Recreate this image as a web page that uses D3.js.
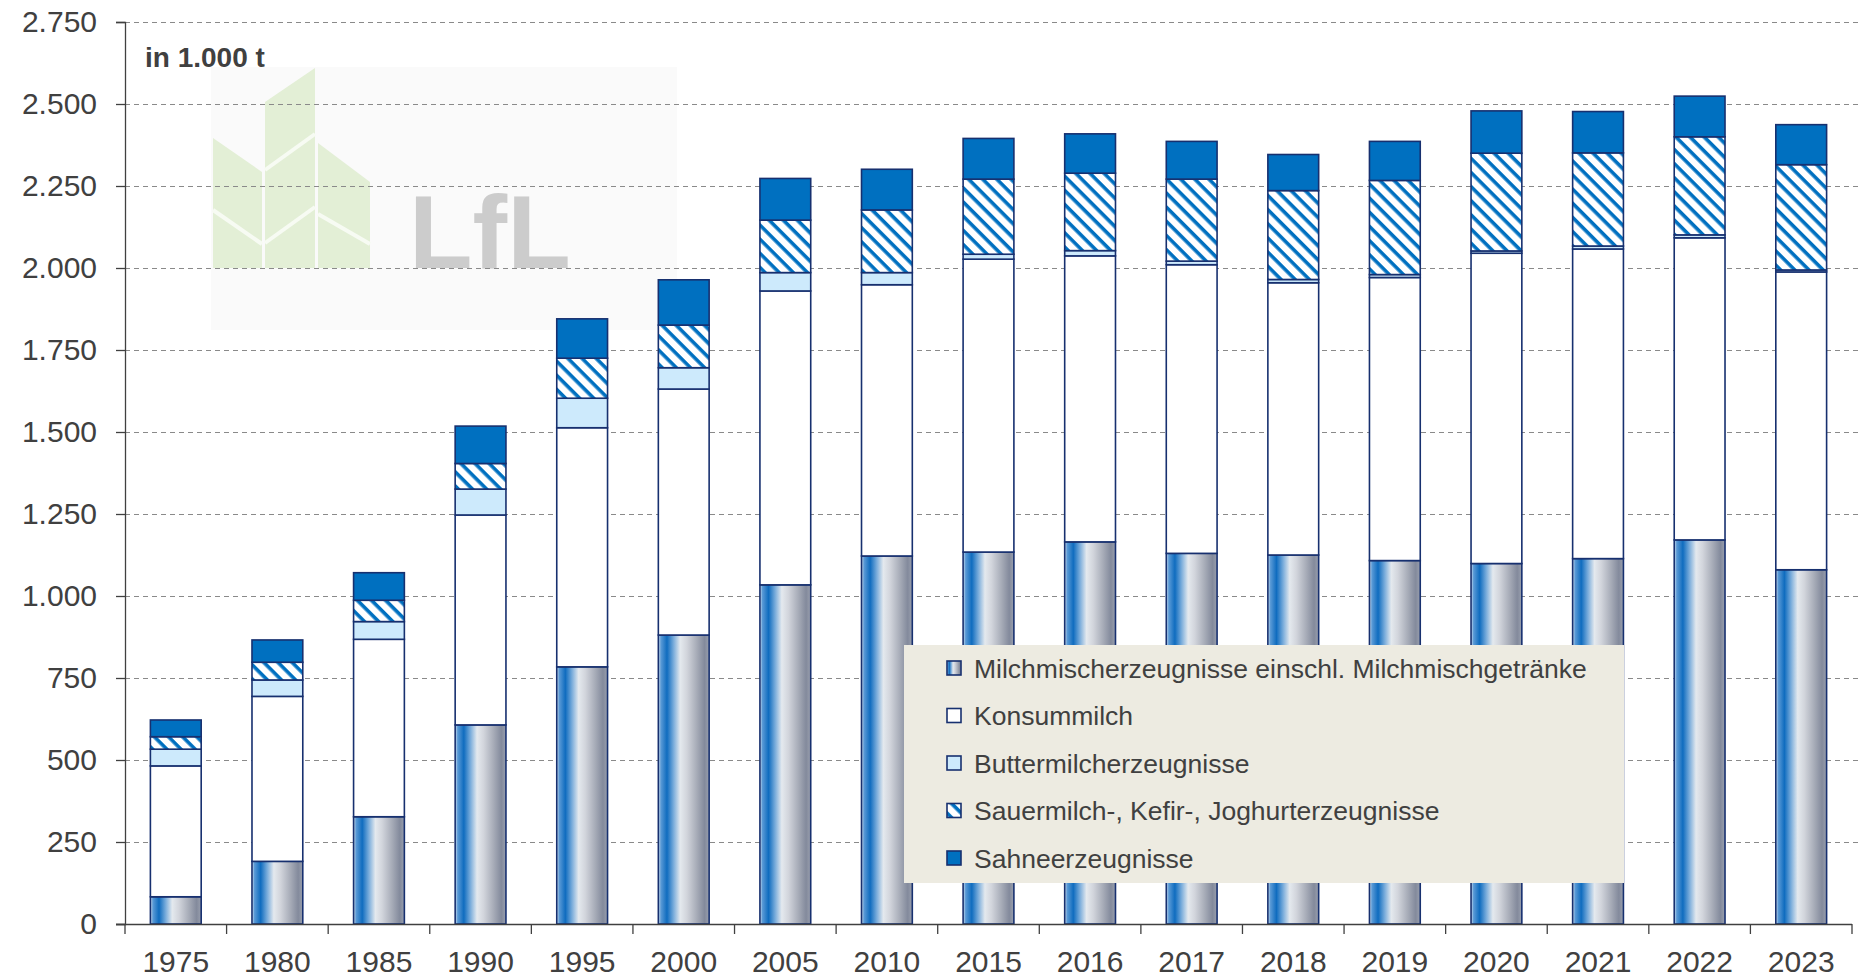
<!DOCTYPE html>
<html>
<head>
<meta charset="utf-8">
<script src="https://cdn.jsdelivr.net/npm/d3@7"></script>
<style>
  body { margin: 0; background: #fff; }
  text { font-family: "Liberation Sans", Arial, sans-serif; fill: #404040; }
</style>
</head>
<body>
<script>
//svg size
var w = 1863, h = 977;

//data in 1.000 t
var years = ["1975","1980","1985","1990","1995","2000","2005","2010","2015","2016","2017","2018","2019","2020","2021","2022","2023"];
var milchmisch = [83, 191, 327, 607, 784, 881, 1034, 1122, 1134, 1165, 1130, 1125, 1108, 1099, 1114, 1171, 1080];
var konsummilch = [399, 503, 541, 640, 729, 750, 896, 827, 893, 872, 880, 830, 863, 946, 944, 921, 908];
var buttermilch = [51, 50, 54, 79, 90, 65, 56, 37, 15, 16, 11, 10, 9, 7, 9, 9, 6];
var sauermilch = [38, 54, 65, 78, 122, 130, 160, 191, 229, 236, 250, 271, 287, 298, 284, 299, 321];
var sahne = [51, 68, 84, 114, 120, 138, 127, 124, 124, 120, 115, 110, 119, 129, 126, 124, 122];

var seriesKeys = ["misch", "konsum", "butter", "sauer", "sahne"];
var seriesNames = ["Milchmischerzeugnisse einschl. Milchmischgetränke", "Konsummilch", "Buttermilcherzeugnisse", "Sauermilch-, Kefir-, Joghurterzeugnisse", "Sahneerzeugnisse"];
var yTicks = [0, 250, 500, 750, 1000, 1250, 1500, 1750, 2000, 2250, 2500, 2750];

window.onload = function(){

    var table = years.map(function(y, i){
        return {year: y, misch: milchmisch[i], konsum: konsummilch[i], butter: buttermilch[i], sauer: sauermilch[i], sahne: sahne[i]};
    });

    var svg = d3.select("body").append("svg")
        .attr("width", w)
        .attr("height", h);

    var defs = svg.append("defs");

    //metallic gradient of the milk mix bars
    var grad = defs.append("linearGradient").attr("id", "mischGrad")
        .attr("x1", "0%").attr("x2", "100%").attr("y1", "0%").attr("y2", "0%");
    [["0%", "#d6e4f2"], ["5%", "#5a9ad6"], ["17%", "#0f6cbf"], ["30%", "#79acdb"], ["43%", "#e4e9ee"], ["56%", "#d2d5dc"], ["76%", "#a6abb7"], ["91%", "#838a9c"], ["100%", "#9aa0ae"]]
        .forEach(function(s){ grad.append("stop").attr("offset", s[0]).attr("stop-color", s[1]); });

    //hatching of the sour milk segment
    var pat = defs.append("pattern").attr("id", "hatch")
        .attr("patternUnits", "userSpaceOnUse")
        .attr("width", 10).attr("height", 10)
        .attr("patternTransform", "rotate(45)");
    pat.append("rect").attr("width", 10).attr("height", 10).attr("fill", "#fff");
    pat.append("rect").attr("width", 10).attr("height", 3.6).attr("fill", "#0070c0");

    var fills = {misch: "url(#mischGrad)", konsum: "#ffffff", butter: "#cdeafc", sauer: "url(#hatch)", sahne: "#0070c0"};

    var x = d3.scaleBand()
        .domain(years)
        .range([125, 1852])
        .paddingInner(0.5)
        .paddingOuter(0.25);

    var y = d3.scaleLinear()
        .domain([0, 2750])
        .range([924, 22]);

    //watermark logo
    var logo = svg.append("g").attr("class", "logo");
    logo.append("rect").attr("x", 211).attr("y", 67).attr("width", 466).attr("height", 263).attr("fill", "#fafafa");
    var leafFill = "#e3efd6";
    logo.append("polygon").attr("points", "213,138 262,172 262,268 213,268").attr("fill", leafFill);
    logo.append("polygon").attr("points", "265,102 315,68 315,268 265,268").attr("fill", leafFill);
    logo.append("polygon").attr("points", "318,143 370,182 370,268 318,268").attr("fill", leafFill);
    logo.append("line").attr("x1", 265).attr("y1", 170).attr("x2", 315).attr("y2", 134).attr("stroke", "#f7fbf3").attr("stroke-width", 4);
    logo.append("line").attr("x1", 265).attr("y1", 243).attr("x2", 315).attr("y2", 207).attr("stroke", "#f7fbf3").attr("stroke-width", 4);
    logo.append("line").attr("x1", 213).attr("y1", 210).attr("x2", 262).attr("y2", 244).attr("stroke", "#f7fbf3").attr("stroke-width", 4);
    logo.append("line").attr("x1", 318).attr("y1", 214).attr("x2", 370).attr("y2", 244).attr("stroke", "#f7fbf3").attr("stroke-width", 4);
    logo.append("text").attr("x", 409).attr("y", 268)
        .style("font-size", "104px").style("font-weight", "bold").style("fill", "#cccccc")
        .text("LfL");

    //dashed grid
    svg.append("g").attr("class", "grid")
        .selectAll("line")
        .data(yTicks.filter(function(d){ return d > 0; }))
        .enter().append("line")
        .attr("x1", 125).attr("x2", 1860)
        .attr("y1", function(d){ return y(d) + 0.5; })
        .attr("y2", function(d){ return y(d) + 0.5; })
        .attr("stroke", "#8a8a8a")
        .attr("stroke-width", 1.2)
        .attr("stroke-dasharray", "5,4");

    //stacked bars
    var stacked = d3.stack().keys(seriesKeys)(table);

    svg.append("g").attr("class", "bars")
        .selectAll("g")
        .data(stacked)
        .enter().append("g")
        .attr("fill", function(d){ return fills[d.key]; })
        .selectAll("rect")
        .data(function(d){ return d; })
        .enter().append("rect")
        .attr("x", function(d){ return x(d.data.year); })
        .attr("y", function(d){ return y(d[1]); })
        .attr("width", x.bandwidth())
        .attr("height", function(d){ return y(d[0]) - y(d[1]); })
        .attr("stroke", "#17306f")
        .attr("stroke-width", 1.6);

    //y axis
    var de = d3.formatLocale({decimal: ",", thousands: ".", grouping: [3], currency: ["", " €"]});
    var yAxis = svg.append("g")
        .attr("transform", "translate(125,0)")
        .call(d3.axisLeft(y).tickValues(yTicks).tickFormat(de.format(",")).tickSize(9).tickPadding(19));
    yAxis.select(".domain").attr("stroke", "#404040").attr("stroke-width", 1.3);
    yAxis.selectAll(".tick line").attr("stroke", "#404040").attr("stroke-width", 1.3);
    yAxis.selectAll(".tick text")
        .style("font-size", "30px")
        .style("font-family", "'Liberation Sans', Arial, sans-serif")
        .attr("fill", "#404040");

    //x axis, ticks between the categories
    var xg = svg.append("g").attr("class", "xaxis");
    xg.append("line").attr("x1", 116).attr("x2", 1852)
        .attr("y1", 924.5).attr("y2", 924.5)
        .attr("stroke", "#404040").attr("stroke-width", 1.3);
    var bounds = years.map(function(d){ return x(d) - x.step() * x.paddingOuter(); });
    bounds.push(x.range()[1]);
    xg.selectAll(".xt").data(bounds).enter().append("line")
        .attr("class", "xt")
        .attr("x1", function(d){ return d; }).attr("x2", function(d){ return d; })
        .attr("y1", 924).attr("y2", 934)
        .attr("stroke", "#404040").attr("stroke-width", 1.3);
    xg.selectAll("text").data(years).enter().append("text")
        .attr("x", function(d){ return x(d) + x.bandwidth() / 2; })
        .attr("y", 972)
        .attr("text-anchor", "middle")
        .style("font-size", "30px")
        .text(function(d){ return d; });

    //unit label
    svg.append("text").attr("x", 145).attr("y", 67)
        .style("font-size", "28px").style("font-weight", "bold")
        .text("in 1.000 t");

    //legend
    var lg = svg.append("g").attr("class", "legend");
    lg.append("rect").attr("x", 904).attr("y", 645).attr("width", 720).attr("height", 238).attr("fill", "#edebe1");
    var rows = lg.selectAll(".row").data(seriesKeys).enter().append("g")
        .attr("class", "row")
        .attr("transform", function(d, i){ return "translate(947," + (668 + i * 47.5) + ")"; });
    rows.append("rect").attr("x", 0).attr("y", -7).attr("width", 14).attr("height", 14)
        .attr("fill", function(d){ return fills[d]; })
        .attr("stroke", "#17306f").attr("stroke-width", 1.6);
    rows.append("text").attr("x", 27).attr("dy", "0.36em")
        .style("font-size", "26.5px")
        .text(function(d, i){ return seriesNames[i]; });
};
</script>
</body>
</html>
